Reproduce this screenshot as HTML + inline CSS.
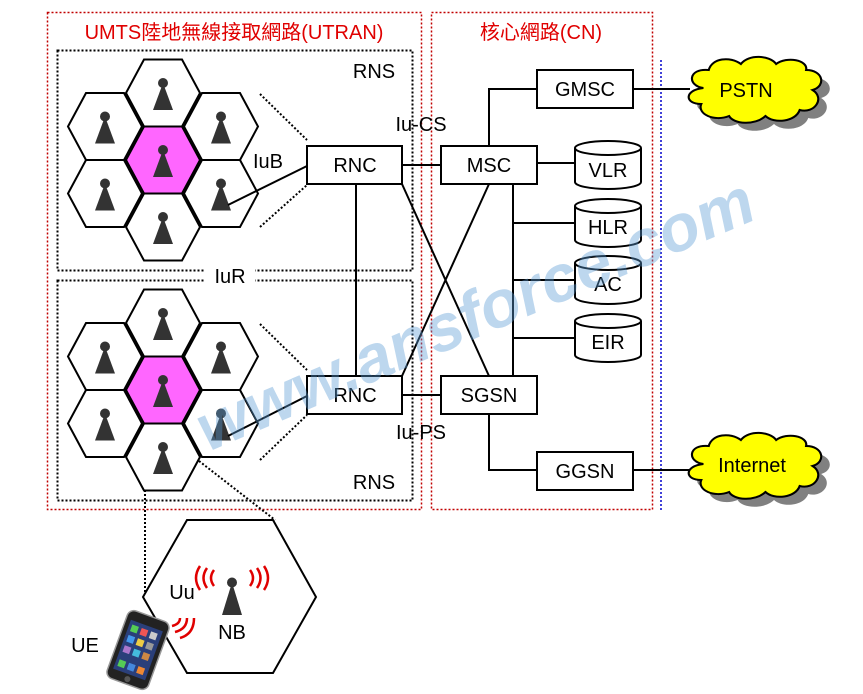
<!DOCTYPE html>
<html><head><meta charset="utf-8"><style>
html,body{margin:0;padding:0;background:#fff;}
svg{display:block;font-family:"Liberation Sans","Noto Sans CJK TC",sans-serif;}
</style></head><body>
<svg width="863" height="694" viewBox="0 0 863 694" xmlns="http://www.w3.org/2000/svg">
<defs>
<g id="ant"><circle cx="0" cy="-10" r="5" fill="#333"/><polygon points="0,-10 -10,17 10,17" fill="#333"/></g>
<g id="hex"><polygon points="-37,0 -19,-33.5 19,-33.5 37,0 19,33.5 -19,33.5" fill="none" stroke="#000" stroke-width="2"/></g>
<g id="cell">
<polygon points="-37,0 -19,-33.5 19,-33.5 37,0 19,33.5 -19,33.5" fill="#ff66ff" stroke="#000" stroke-width="2"/>
<use href="#hex" x="0" y="-67"/><use href="#hex" x="0" y="67"/>
<use href="#hex" x="-58" y="-33.5"/><use href="#hex" x="-58" y="33.5"/>
<use href="#hex" x="58" y="-33.5"/><use href="#hex" x="58" y="33.5"/>
<use href="#ant"/><use href="#ant" x="0" y="-67"/><use href="#ant" x="0" y="67"/>
<use href="#ant" x="-58" y="-33.5"/><use href="#ant" x="-58" y="33.5"/>
<use href="#ant" x="58" y="-33.5"/><use href="#ant" x="58" y="33.5"/>
</g>
<path id="cloud" d="M20,30 C5,28 5,10 25,12 C28,0 45,-2 55,6 C62,-4 82,-3 88,6 C98,-2 118,2 116,12 C132,12 135,28 122,32 C134,40 124,56 110,52 C106,64 86,66 78,58 C68,68 48,66 44,58 C30,64 14,56 18,46 C2,46 2,32 20,30 Z"/>
</defs>

<rect x="47.5" y="12.5" width="374" height="497" fill="none" stroke="#c00000" stroke-width="1.5" stroke-dasharray="2,2"/>
<rect x="431.5" y="12.5" width="221" height="497" fill="none" stroke="#c00000" stroke-width="1.5" stroke-dasharray="2,2"/>
<line x1="661" y1="60" x2="661" y2="510" stroke="#0000cc" stroke-width="1.5" stroke-dasharray="2,2"/>
<text x="234" y="39" font-size="20" fill="#e00000" text-anchor="middle">UMTS陸地無線接取網路(UTRAN)</text>
<text x="541" y="39" font-size="20" fill="#e00000" text-anchor="middle">核心網路(CN)</text>

<rect x="57.5" y="50.5" width="355" height="220" fill="none" stroke="#000" stroke-width="2" stroke-dasharray="2,2"/>
<rect x="57.5" y="280.5" width="355" height="220" fill="none" stroke="#000" stroke-width="2" stroke-dasharray="2,2"/>
<rect x="205" y="264" width="50" height="22" fill="#fff"/>
<text x="230" y="283" font-size="20" text-anchor="middle">IuR</text>
<text x="374" y="78" font-size="20" text-anchor="middle">RNS</text>
<text x="374" y="489" font-size="20" text-anchor="middle">RNS</text>

<use href="#cell" x="163" y="160"/>
<use href="#cell" x="163" y="390"/>

<g stroke="#000" stroke-width="2" stroke-dasharray="2,2" fill="none">
<line x1="260" y1="94" x2="307" y2="140"/><line x1="260" y1="227" x2="307" y2="185"/>
<line x1="260" y1="324" x2="307" y2="370"/><line x1="260" y1="460" x2="307" y2="415"/>
<polyline points="145,490 145,597"/>
<line x1="199" y1="461" x2="275" y2="520"/>
</g>
<text x="268" y="168" font-size="20" text-anchor="middle">IuB</text>

<g stroke="#000" stroke-width="2" fill="none">
<line x1="228" y1="205" x2="307" y2="166"/>
<line x1="228" y1="436" x2="307" y2="396"/>
<line x1="402" y1="165" x2="441" y2="165"/>
<line x1="402" y1="395" x2="441" y2="395"/>
<line x1="356" y1="184" x2="356" y2="376"/>
<line x1="402" y1="184" x2="489" y2="376"/>
<line x1="489" y1="184" x2="402" y2="376"/>
<polyline points="489,146 489,89 537,89"/>
<line x1="537" y1="163" x2="575" y2="163"/>
<line x1="513" y1="184" x2="513" y2="376"/>
<line x1="513" y1="223" x2="575" y2="223"/>
<line x1="513" y1="280" x2="575" y2="280"/>
<line x1="513" y1="338" x2="575" y2="338"/>
<polyline points="489,414 489,470 537,470"/>
<line x1="633" y1="89" x2="690" y2="89"/>
<line x1="633" y1="470" x2="690" y2="470"/>
</g>
<text x="421" y="131" font-size="20" text-anchor="middle">Iu-CS</text>
<text x="421" y="439" font-size="20" text-anchor="middle">Iu-PS</text>

<g stroke="#000" stroke-width="2" fill="#fff">
<rect x="307" y="146" width="95" height="38"/>
<rect x="307" y="376" width="95" height="38"/>
<rect x="441" y="146" width="96" height="38"/>
<rect x="441" y="376" width="96" height="38"/>
<rect x="537" y="70" width="96" height="38"/>
<rect x="537" y="452" width="96" height="38"/>
</g>
<g font-size="20" text-anchor="middle">
<text x="355" y="172">RNC</text><text x="355" y="402">RNC</text>
<text x="489" y="172">MSC</text><text x="489" y="402">SGSN</text>
<text x="585" y="96">GMSC</text><text x="585" y="478">GGSN</text>
</g>

<g stroke="#000" stroke-width="2" fill="#fff">
<g transform="translate(575,141)"><path d="M0,7 L0,41 A33,7 0 0 0 66,41 L66,7"/><ellipse cx="33" cy="7" rx="33" ry="7"/></g>
<g transform="translate(575,199)"><path d="M0,7 L0,41 A33,7 0 0 0 66,41 L66,7"/><ellipse cx="33" cy="7" rx="33" ry="7"/></g>
<g transform="translate(575,256)"><path d="M0,7 L0,41 A33,7 0 0 0 66,41 L66,7"/><ellipse cx="33" cy="7" rx="33" ry="7"/></g>
<g transform="translate(575,314)"><path d="M0,7 L0,41 A33,7 0 0 0 66,41 L66,7"/><ellipse cx="33" cy="7" rx="33" ry="7"/></g>
</g>
<g font-size="20" text-anchor="middle">
<text x="608" y="177">VLR</text><text x="608" y="234">HLR</text>
<text x="608" y="291">AC</text><text x="608" y="349">EIR</text>
</g>

<g transform="translate(682,58) scale(1.07,1.0)"><use href="#cloud" x="8" y="8" fill="#808080"/><use href="#cloud" fill="#ffff00" stroke="#000" stroke-width="2"/></g>
<text x="746" y="97" font-size="20" text-anchor="middle">PSTN</text>
<g transform="translate(682,434) scale(1.07,1.0)"><use href="#cloud" x="8" y="8" fill="#808080"/><use href="#cloud" fill="#ffff00" stroke="#000" stroke-width="2"/></g>
<text x="752" y="472" font-size="20" text-anchor="middle">Internet</text>

<polygon points="143,597 187,520 273,520 316,597 273,673 187,673" fill="#fff" stroke="#000" stroke-width="2"/>
<g transform="translate(232,590) scale(1.25)"><circle cx="0" cy="-6" r="4" fill="#333"/><polygon points="0,-6 -8,20 8,20" fill="#333"/></g>
<g fill="none" stroke="#e00000" stroke-width="2.5">
<path d="M214,570 q-6,8 0,16"/><path d="M207,568 q-7,10 0,20"/><path d="M200,566 q-8,12 0,24"/>
<path d="M250,570 q6,8 0,16"/><path d="M257,568 q7,10 0,20"/><path d="M264,566 q8,12 0,24"/>
<path d="M172,626 q8,-2 8,-8"/><path d="M175,632 q12,-3 12,-14"/><path d="M180,638 q14,-4 14,-20"/>
</g>
<text x="182" y="599" font-size="20" text-anchor="middle">Uu</text>
<text x="232" y="639" font-size="20" text-anchor="middle">NB</text>
<text x="85" y="652" font-size="20" text-anchor="middle">UE</text>

<g transform="translate(138,650) rotate(20)">
<rect x="-22" y="-36" width="44" height="72" rx="7" fill="#222" stroke="#999" stroke-width="1.5"/>
<rect x="-17" y="-26" width="34" height="52" fill="#2a3f7a"/>
<rect x="-14" y="-22" width="7" height="7" fill="#5c5"/><rect x="-4" y="-22" width="7" height="7" fill="#e55"/><rect x="6" y="-22" width="7" height="7" fill="#ccc"/>
<rect x="-14" y="-11" width="7" height="7" fill="#49e"/><rect x="-4" y="-11" width="7" height="7" fill="#ec4"/><rect x="6" y="-11" width="7" height="7" fill="#999"/>
<rect x="-14" y="0" width="7" height="7" fill="#a7c"/><rect x="-4" y="0" width="7" height="7" fill="#4bd"/><rect x="6" y="0" width="7" height="7" fill="#c84"/>
<rect x="-14" y="15" width="7" height="7" fill="#5c5"/><rect x="-4" y="15" width="7" height="7" fill="#48d"/><rect x="6" y="15" width="7" height="7" fill="#e83"/>
<circle cx="0" cy="31" r="3" fill="#555"/>
</g>

<text x="0" y="0" font-size="66" font-weight="bold" font-style="italic" fill="#5b9bd5" fill-opacity="0.4" font-family="Liberation Sans, sans-serif" transform="translate(208,452) rotate(-23)">www.ansforce.com</text>
</svg>
</body></html>
